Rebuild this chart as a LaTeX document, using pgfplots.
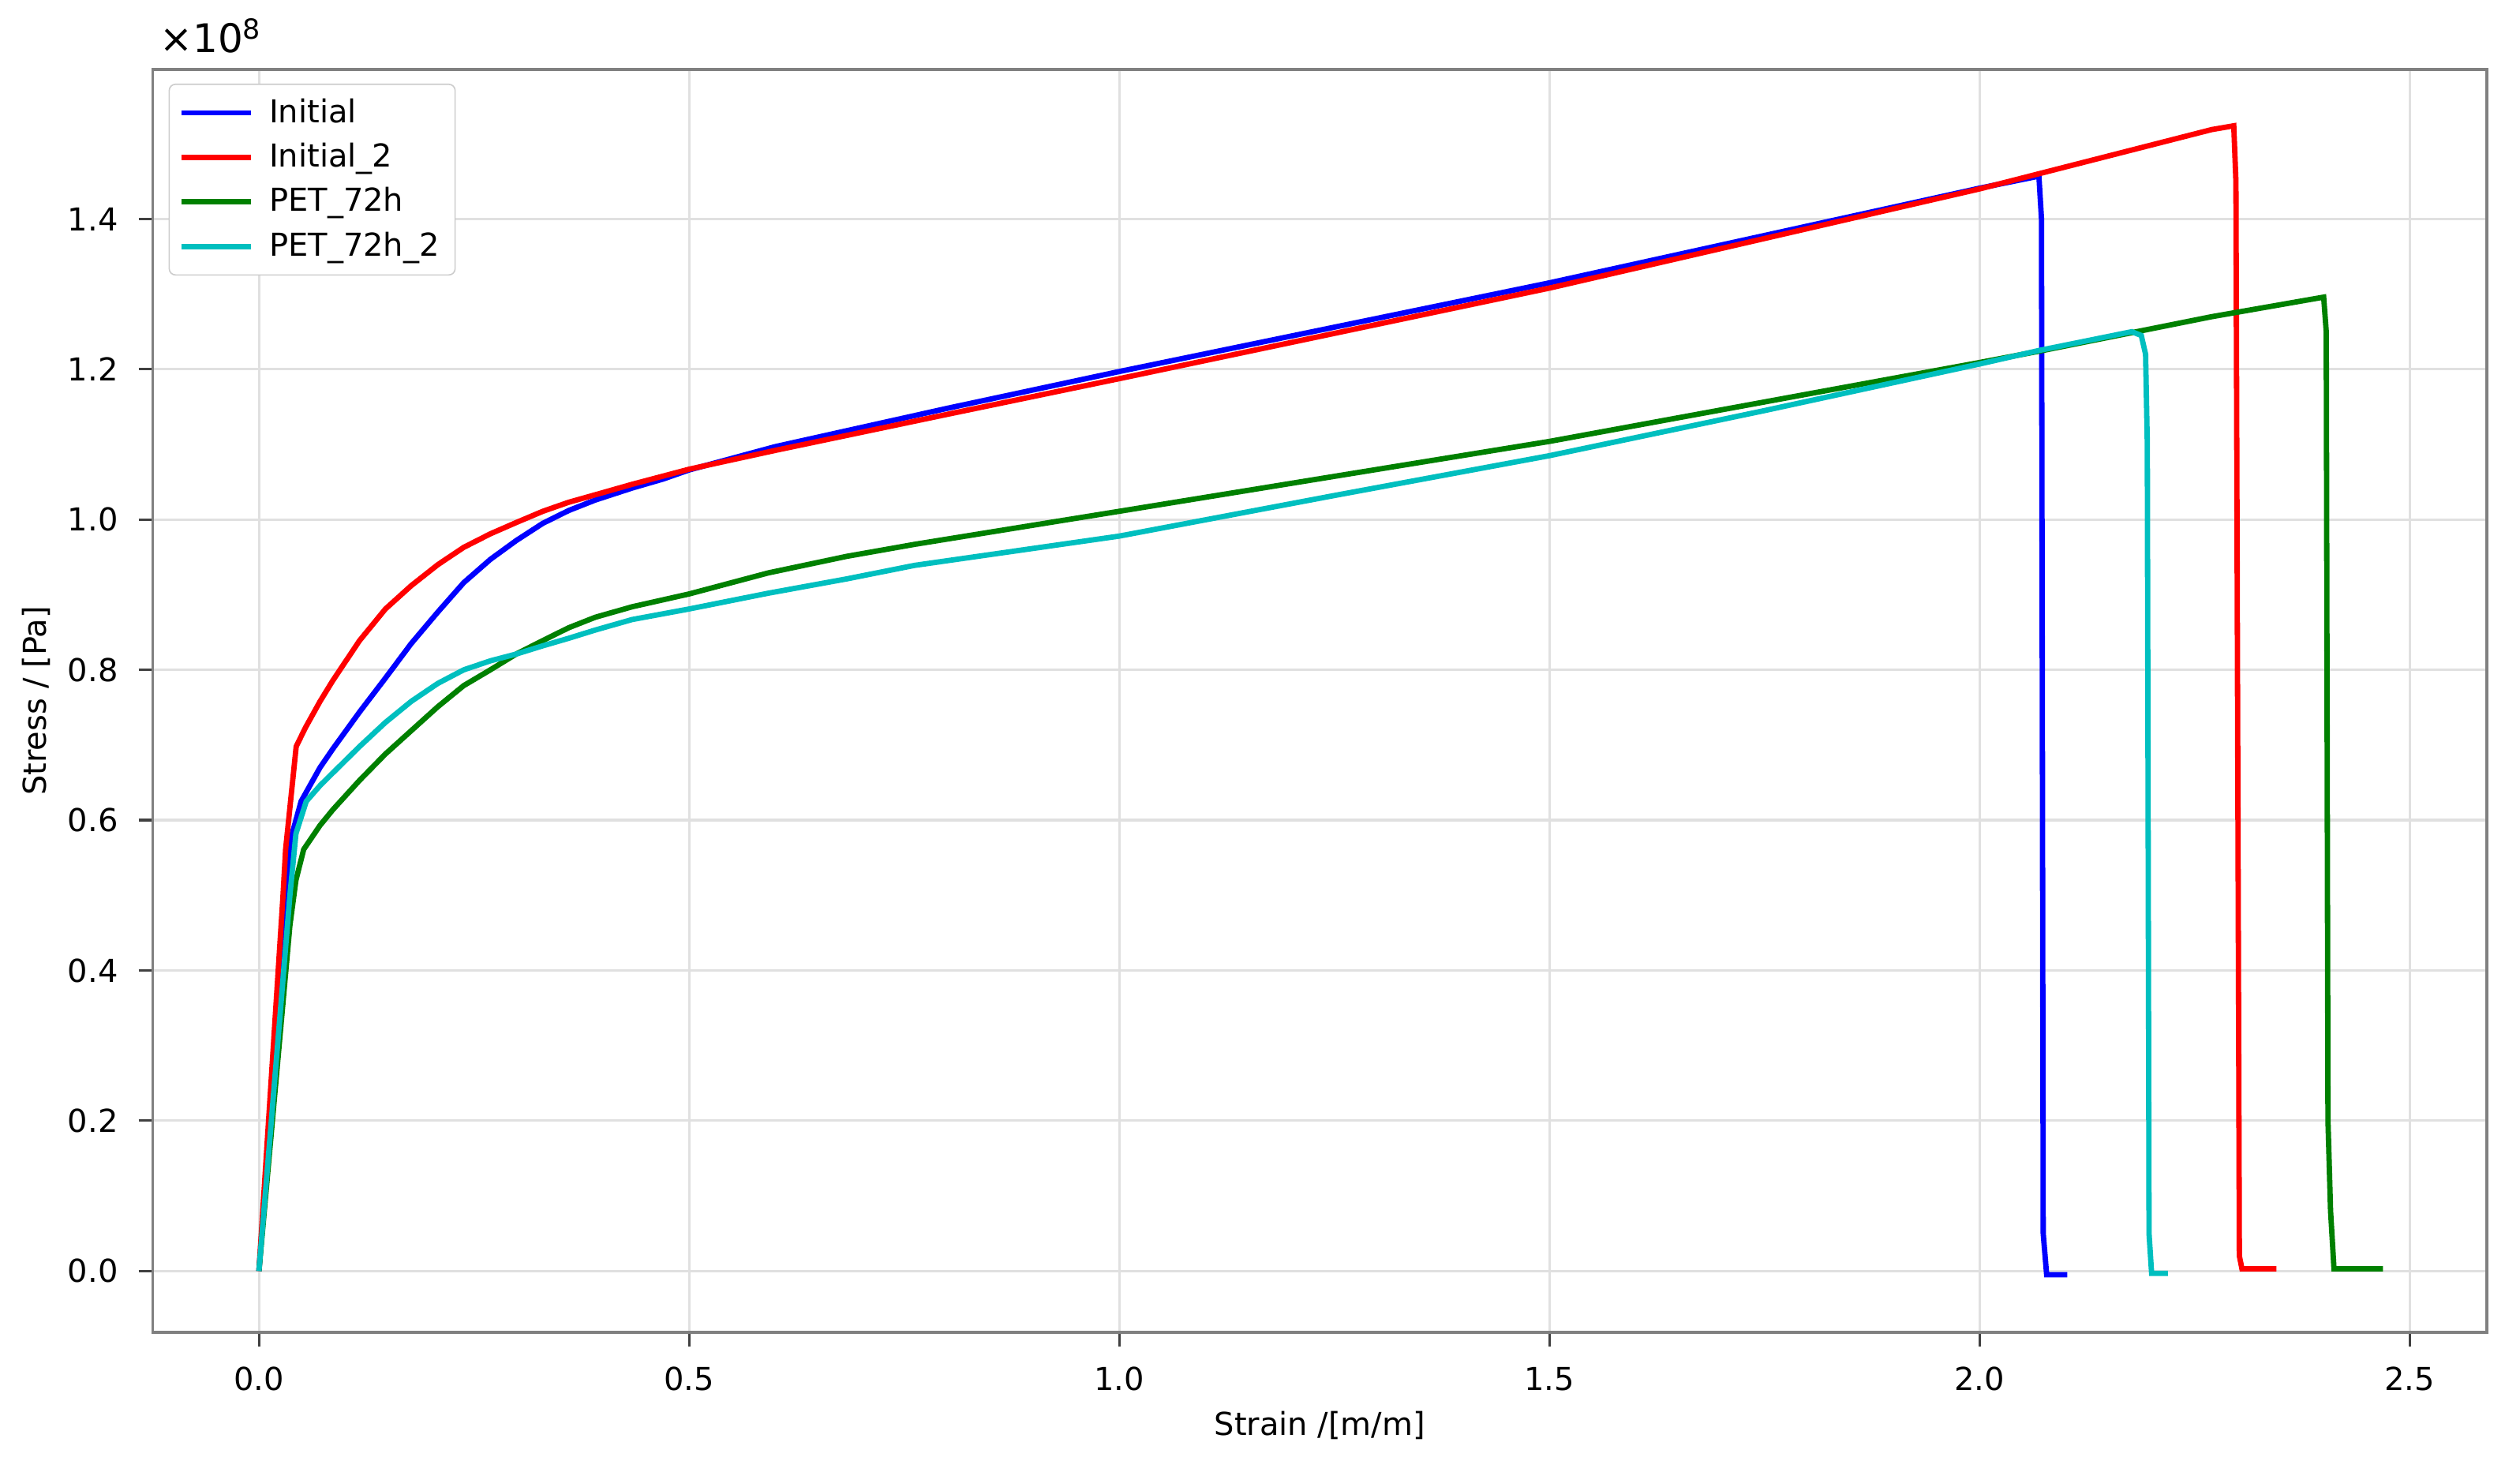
\documentclass[border=0pt]{standalone}
\usepackage{fontspec}
\setmainfont{DejaVu Sans}
\usepackage{pgfplots}
\pgfplotsset{compat=1.18}
\definecolor{mplgreen}{rgb}{0,0.5,0}
\definecolor{mplcyan}{rgb}{0,0.75,0.75}
\begin{document}
\begin{tikzpicture}
\begin{axis}[
  name=ax,
  width=739.4pt, height=400pt, scale only axis,
  xmin=-0.1234, xmax=2.5897,
  ymin=-0.0815, ymax=1.599,
  xtick={0,0.5,1,1.5,2,2.5},
  ytick={0,0.2,0.4,0.6,0.8,1.0,1.2,1.4},
  scaled ticks=false,
  /pgf/number format/.cd, fixed, fixed zerofill, precision=1, assume math mode=true,
  /pgfplots/.cd,
  tick pos=left,
  tick align=outside,
  major tick length=4.5pt,
  every tick/.style={black!75, line width=0.8pt},
  axis line style={black!50, line width=0.9pt},
  grid=major,
  major grid style={black!12, line width=0.8pt},
  tick label style={font=\fontsize{10}{12}\selectfont},
  xticklabel style={yshift=-3pt},
  yticklabel style={xshift=-3pt},
  xlabel={Strain /[m/m]},
  ylabel={Stress / [Pa]},
  label style={font=\fontsize{10}{12}\selectfont},
  xlabel style={at={(axis description cs:0.5,0)}, anchor=center, yshift=-29.5pt},
  ylabel style={at={(axis description cs:-0.05004,0.5)}, anchor=center},
  legend cell align=left,
  legend style={at={(0,1)}, anchor=north west, xshift=5pt, yshift=-4.5pt,
    draw=black!20, rounded corners=2pt, fill=white,
    font=\fontsize{10}{12}\selectfont, row sep=1pt, inner xsep=3pt, inner ysep=2.5pt,
    /tikz/every odd column/.append style={column sep=3pt}},
  legend image code/.code={\draw[#1, line width=1.7pt] (0pt,0pt) -- (22pt,0pt);},
  clip mode=individual,
]
\addplot[blue, line width=1.7pt] coordinates {
(0,0) (0.034,0.52) (0.037,0.575) (0.049,0.625) (0.071,0.670) (0.086,0.695)
(0.117,0.744) (0.147,0.789) (0.177,0.835) (0.208,0.877) (0.238,0.916)
(0.269,0.947) (0.299,0.972) (0.330,0.995) (0.360,1.012) (0.391,1.026)
(0.434,1.042) (0.470,1.054) (0.5,1.066) (0.6,1.097) (0.8,1.148) (1.0,1.197)
(1.5,1.315) (2.0,1.441) (2.069,1.457) (2.072,1.40) (2.074,0.05) (2.078,-0.005) (2.102,-0.005)
};
\addlegendentry{Initial}
\addplot[red, line width=1.7pt] coordinates {
(0,0) (0.028,0.50) (0.031,0.561) (0.0433,0.698) (0.054,0.723) (0.071,0.758)
(0.086,0.786) (0.117,0.839) (0.147,0.881) (0.177,0.912) (0.208,0.940)
(0.238,0.963) (0.269,0.981) (0.299,0.996) (0.330,1.011) (0.360,1.023)
(0.391,1.033) (0.434,1.047) (0.5,1.067) (0.6,1.092) (0.8,1.140) (1.0,1.1875)
(1.5,1.308) (2.0,1.440) (2.27,1.519) (2.2955,1.524) (2.298,1.45) (2.302,0.02)
(2.305,0.003) (2.345,0.003)
};
\addlegendentry{Initial\_2}
\addplot[mplgreen, line width=1.7pt] coordinates {
(0,0) (0.036,0.46) (0.043,0.52) (0.052,0.561) (0.071,0.593) (0.086,0.614)
(0.117,0.653) (0.147,0.688) (0.177,0.719) (0.208,0.751) (0.238,0.779)
(0.269,0.800) (0.299,0.821) (0.330,0.839) (0.360,0.856) (0.391,0.870)
(0.434,0.884) (0.5,0.901) (0.592,0.929) (0.683,0.951) (0.762,0.967)
(1.0,1.011) (1.5,1.104) (2.0,1.209) (2.069,1.224) (2.27,1.270) (2.40,1.296)
(2.403,1.25) (2.405,0.2) (2.408,0.08) (2.412,0.003) (2.469,0.003)
};
\addlegendentry{PET\_72h}
\addplot[mplcyan, line width=1.7pt] coordinates {
(0,0) (0.036,0.50) (0.043,0.582) (0.055,0.625) (0.071,0.646) (0.086,0.663)
(0.117,0.698) (0.147,0.730) (0.177,0.758) (0.208,0.782) (0.238,0.800)
(0.269,0.812) (0.299,0.821) (0.330,0.832) (0.360,0.842) (0.391,0.853)
(0.434,0.867) (0.5,0.881) (0.592,0.902) (0.683,0.921) (0.762,0.939)
(1.0,0.978) (1.25,1.032) (1.5,1.085) (1.75,1.145) (2.0,1.207) (2.069,1.225)
(2.177,1.250) (2.188,1.245) (2.193,1.22) (2.195,1.1) (2.197,0.05) (2.2,-0.003) (2.219,-0.003)
};
\addlegendentry{PET\_72h\_2}
\end{axis}
\node[anchor=base west, font=\fontsize{12.5}{14}\selectfont, inner sep=0pt]
  at ([shift={(2pt,5.3pt)}]ax.north west) {×10\textsuperscript{8}};
\path ([shift={(-48.4pt,-40.75pt)}]ax.south west) rectangle ([shift={(10.5pt,22pt)}]ax.north east);
\end{tikzpicture}
\end{document}
